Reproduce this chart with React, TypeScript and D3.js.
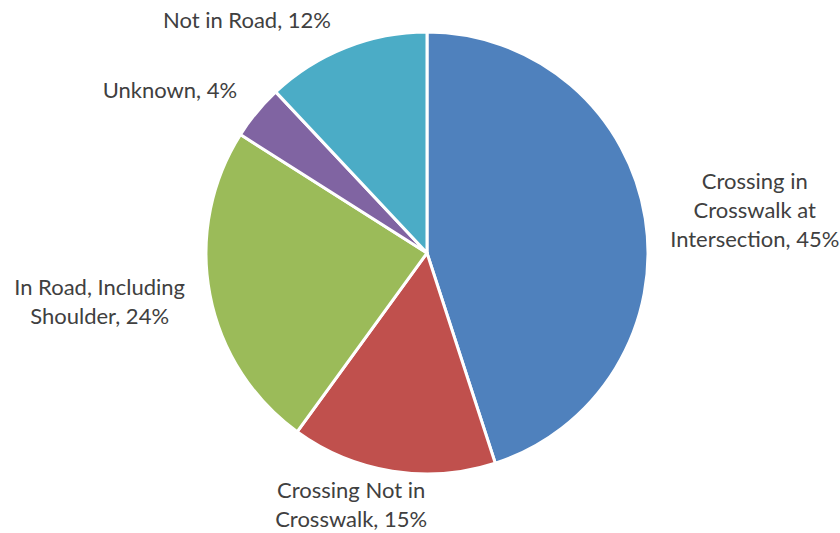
import React from "react";
import * as d3 from "d3";

const categories = [
  "Crossing in Crosswalk at Intersection",
  "Crossing Not in Crosswalk",
  "In Road, Including Shoulder",
  "Unknown",
  "Not in Road",
];
const values = [45, 15, 24, 4, 12];
const labelLines = [
  ["Crossing in", "Crosswalk at", "Intersection, 45%"],
  ["Crossing Not in", "Crosswalk, 15%"],
  ["In Road, Including", "Shoulder, 24%"],
  ["Unknown, 4%"],
  ["Not in Road, 12%"],
];
const colors = ["#4F81BD", "#C0504D", "#9BBB59", "#8064A2", "#4BACC6"];

// layout nudges for label blocks relative to outer centroid
const labelNudges: [number, number][] = [
  [70, 6],
  [-35, 2],
  [-71, 8],
  [-56, 11],
  [-84, 18],
];

const W = 840;
const H = 533;
const cx = 427;
const cy = 253;
const r = 221;
const lineH = 29;
const fontSize = 22;

export default function App() {
  const data = categories.map((c, i) => ({ c, v: values[i], i }));
  const pie = d3
    .pie<{ c: string; v: number; i: number }>()
    .value((d) => d.v)
    .sort(null);
  const arcs = pie(data);
  const arc = d3.arc<d3.PieArcDatum<any>>().innerRadius(0).outerRadius(r);
  const labelArc = d3
    .arc<d3.PieArcDatum<any>>()
    .innerRadius(r + 40)
    .outerRadius(r + 40);

  return (
    <svg
      width={W}
      height={H}
      style={{ position: "absolute", left: 0, top: 0, background: "#fff" }}
    >
      <g transform={`translate(${cx},${cy})`}>
        {arcs.map((a, i) => (
          <path
            key={i}
            d={arc(a) || ""}
            fill={colors[i]}
            stroke="#fff"
            strokeWidth={3}
            strokeLinejoin="round"
          />
        ))}
        {arcs.map((a, i) => {
          const [x0, y0] = labelArc.centroid(a);
          const x = x0 + labelNudges[i][0];
          const y = y0 + labelNudges[i][1];
          const lines = labelLines[i];
          return (
            <text
              key={"l" + i}
              textAnchor="middle"
              fontFamily="Lato, 'Open Sans', sans-serif"
              fontSize={fontSize}
              fill="#404040"
            >
              {lines.map((t, j) => (
                <tspan key={j} x={x} y={y + (j - (lines.length - 1) / 2) * lineH}>
                  {t}
                </tspan>
              ))}
            </text>
          );
        })}
      </g>
    </svg>
  );
}
